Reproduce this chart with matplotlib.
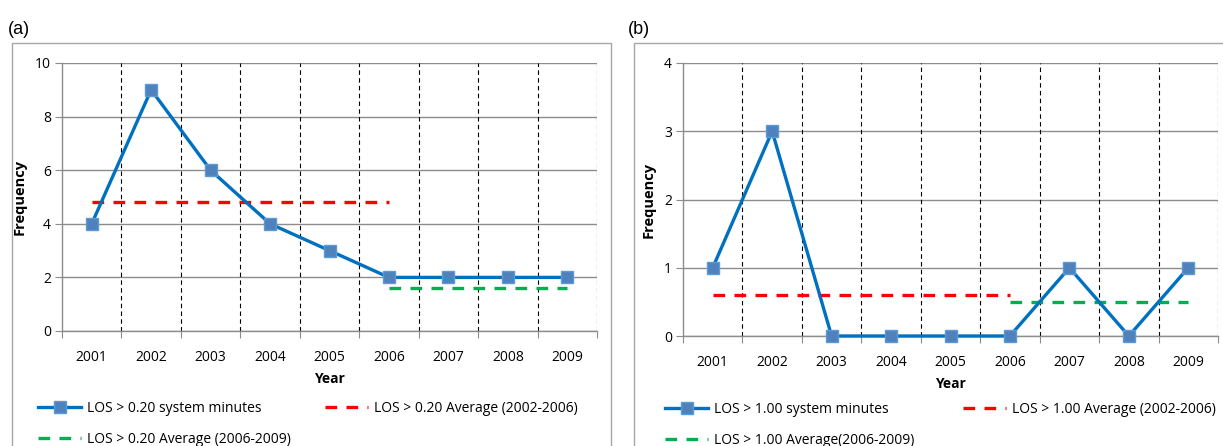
import numpy as np
import matplotlib as mpl
import matplotlib.pyplot as plt
from matplotlib.patches import Rectangle

mpl.rcParams['font.family'] = ['Open Sans', 'DejaVu Sans']

years = ['2001', '2002', '2003', '2004', '2005', '2006', '2007', '2008', '2009']

freq_a = [4, 9, 6, 4, 3, 2, 2, 2, 2]
avg_a_early = 4.8      # 2002-2006
avg_a_late = 1.6       # 2006-2009
labels_a = ['LOS > 0.20 system minutes',
            'LOS > 0.20 Average (2002-2006)',
            'LOS > 0.20 Average (2006-2009)']

freq_b = [1, 3, 0, 0, 0, 0, 1, 0, 1]
avg_b_early = 0.6
avg_b_late = 0.5
labels_b = ['LOS > 1.00 system minutes',
            'LOS > 1.00 Average (2002-2006)',
            'LOS > 1.00 Average(2006-2009)']

BLUE = '#0070C0'
MFACE = '#4F81BD'
MEDGE = '#5B9BD5'
RED = '#FF0000'
GREEN = '#00B050'
GRID = '#8C8C8C'
W, H = 1223, 446


def draw_panel(ax, freq, avg_early, avg_late, ymax, labels, leg1, leg2):
    x = np.arange(len(years))
    for b in np.arange(0.5, len(years), 1.0):
        ax.axvline(b, color='black', lw=0.8, ls=(0, (4, 3)), zorder=1)
    ax.set_ylim(0, ymax)
    ax.set_xlim(-0.5, len(years) - 0.5)
    ax.yaxis.grid(True, color=GRID, lw=1.0)
    ax.set_axisbelow(True)

    ln, = ax.plot(x, freq, color=BLUE, lw=2.4, marker='s', markersize=9,
                  markerfacecolor=MFACE, markeredgecolor=MEDGE,
                  markeredgewidth=1.0, zorder=4, clip_on=False)
    red, = ax.plot(x[:6], [avg_early] * 6, color=RED, lw=2.4,
                   ls=(0, (3.5, 2.8)), zorder=3)
    green, = ax.plot(x[5:], [avg_late] * 4, color=GREEN, lw=2.4,
                     ls=(0, (3.5, 2.8)), zorder=3)

    ax.set_xticks(np.arange(-0.5, len(years), 1.0))
    ax.set_xticklabels([])
    ax.set_xticks(x, minor=True)
    ax.set_xticklabels(years, minor=True, fontsize=10)
    ax.tick_params(axis='x', which='major', length=5, color=GRID, direction='out')
    ax.tick_params(axis='x', which='minor', length=0, pad=14)
    ax.tick_params(axis='y', length=5, color=GRID, labelsize=10, pad=3)

    for s in ['top', 'right']:
        ax.spines[s].set_visible(False)
    for s in ['left', 'bottom']:
        ax.spines[s].set_color(GRID)
        ax.spines[s].set_linewidth(1.0)

    ax.set_xlabel('Year', fontsize=10, fontweight='bold', labelpad=5)
    ax.set_ylabel('Frequency', fontsize=10.5, fontweight='bold', labelpad=6)

    kw = dict(loc='upper left', bbox_transform=ax.figure.transFigure,
              frameon=False, fontsize=10, handlelength=3.1,
              handletextpad=0.4, labelspacing=1.15, borderpad=0,
              borderaxespad=0)
    lg = ax.legend([ln, green], [labels[0], labels[2]],
                   bbox_to_anchor=leg1, **kw)
    ax.add_artist(lg)
    ax.legend([red], [labels[1]], bbox_to_anchor=leg2, **kw)


fig = plt.figure(figsize=(W / 100, H / 100), dpi=100)

# panel frames
fig.patches.append(Rectangle((12 / W, -0.05), 599 / W, 1.05 - 43 / H,
                             transform=fig.transFigure, fill=False,
                             edgecolor='#A6A6A6', lw=1.0))
fig.patches.append(Rectangle((634 / W, -0.05), 620 / W, 1.05 - 43 / H,
                             transform=fig.transFigure, fill=False,
                             edgecolor='#A6A6A6', lw=1.0))

ax1 = fig.add_axes([62 / W, 1 - 331 / H, 535 / W, 268 / H])
draw_panel(ax1, freq_a, avg_a_early, avg_a_late, 10, labels_a,
           (38 / W, 1 - 401 / H), (325 / W, 1 - 401 / H))
ax1.set_yticks([0, 2, 4, 6, 8, 10])

ax2 = fig.add_axes([683 / W, 1 - 336 / H, 535 / W, 273 / H])
draw_panel(ax2, freq_b, avg_b_early, avg_b_late, 4, labels_b,
           (665 / W, 1 - 402 / H), (963 / W, 1 - 402 / H))
ax2.set_yticks([0, 1, 2, 3, 4])

fig.text(8 / W, 1 - 30 / H, '(a)', fontsize=13, va='center',
         family='Liberation Sans')
fig.text(628 / W, 1 - 30 / H, '(b)', fontsize=13, va='center',
         family='Liberation Sans')

fig.savefig('out.png', dpi=100)
